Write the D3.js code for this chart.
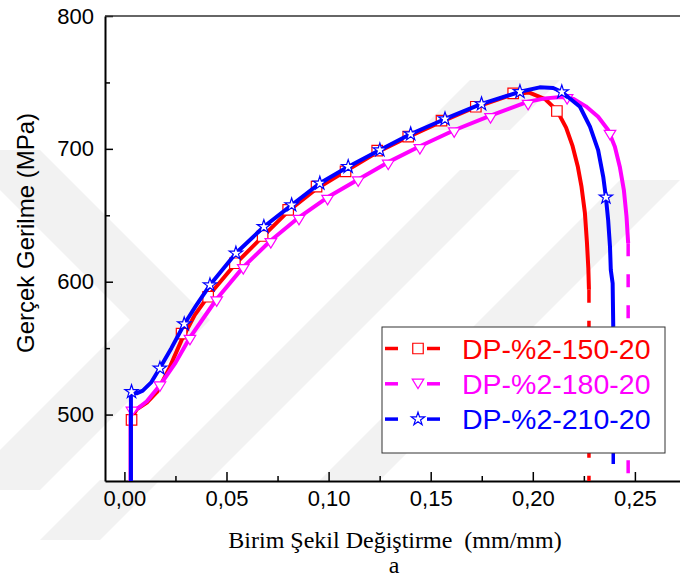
<!doctype html>
<html lang="tr">
<head>
  <meta charset="utf-8">
  <title>Gerçek Gerilme - Birim Şekil Değiştirme</title>
  <script src="https://cdn.jsdelivr.net/npm/d3@7"></script>
  <style>
    body { margin: 0; background: #fff; }
    svg { display: block; }
    text { white-space: pre; }
  </style>
</head>
<body>
  <svg id="chart"></svg>

  <script>
    'use strict';

    // ---- data ----
    var seriesNames = ["DP-%2-150-20", "DP-%2-180-20", "DP-%2-210-20"];
    var seriesColors = ["#ff0000", "#ff00ff", "#0000ff"];

    // red curve (solid part), then the dashed drop
    var red150 = [[0.0032,450],[0.0032,496],[0.0060,504],[0.0110,509],[0.0160,517],[0.0220,535],
      [0.0280,556],[0.0345,575],[0.0410,589],[0.0541,613],[0.0677,634],[0.0802,653],[0.0941,670],
      [0.1080,683],[0.1238,697.5],[0.1390,709],[0.1553,720.5],[0.1721,731.5],[0.1904,741],
      [0.1980,742.5],[0.2060,737.5],[0.2118,729],[0.2163,716],[0.2195,702],[0.2220,687],
      [0.2238,672],[0.2255,652],[0.2265,630],[0.2272,610],[0.2275,594]];
    var red150Drop = [[0.2275,594],[0.2275,450]];
    var red150Marks = [[0.0035,496],[0.0280,561],[0.0410,588.7],[0.0541,613.9],[0.0677,634.4],
      [0.0802,654],[0.0941,671.5],[0.1083,683],[0.1238,698.6],[0.1390,709.2],[0.1553,721.2],
      [0.1721,731.7],[0.1904,741.8],[0.2118,728.5]];

    var mag180 = [[0.0030,450],[0.0030,500],[0.0060,504],[0.0110,510],[0.0174,522],[0.0250,539],
      [0.0321,558],[0.0452,587],[0.0582,611],[0.0717,631],[0.0855,648.5],[0.0995,663.5],
      [0.1145,677],[0.1292,690],[0.1447,702],[0.1615,714],[0.1793,725],[0.1977,735.5],
      [0.2060,738],[0.2140,739],[0.2200,737.5],[0.2260,732],[0.2320,724.2],[0.2369,714.2],
      [0.2402,701.6],[0.2426,686.6],[0.2446,669],[0.2459,649],[0.2467,629]];
    var mag180Drop = [[0.2467,629],[0.2467,450]];
    var mag180Marks = [[0.0037,502],[0.0174,521],[0.0321,556.1],[0.0452,585],[0.0582,609.3],
      [0.0717,628.9],[0.0855,646.4],[0.0995,661.5],[0.1145,675.3],[0.1292,687.9],[0.1447,699.7],
      [0.1615,712.2],[0.1793,723],[0.1977,733],[0.2168,737.3],[0.2378,710.4]];

    var blue210 = [[0.0032,450],[0.0032,517],[0.0060,516],[0.0090,518],[0.0130,524],[0.0174,535],
      [0.0230,550],[0.0293,568],[0.0355,583],[0.0419,597.5],[0.0546,621.4],[0.0683,641.4],
      [0.0819,657.7],[0.0957,674.1],[0.1096,686.6],[0.1251,699.1],[0.1402,711.2],[0.1570,722.5],
      [0.1749,733.8],[0.1937,743],[0.2034,746.3],[0.2100,745.8],[0.2141,743],[0.2231,731.7],
      [0.2280,716.7],[0.2320,699.1],[0.2345,679],[0.2358,663.5],[0.2369,646.5],[0.2378,626.4],
      [0.2382,608.8],[0.2391,598.8],[0.2394,566]];
    var blue210Drop = [[0.2394,566],[0.2394,450]];
    var blue210Marks = [[0.0035,517.2],[0.0174,534.8],[0.0293,568.2],[0.0419,597.5],[0.0546,621.4],
      [0.0683,641.4],[0.0819,657.7],[0.0957,674.1],[0.1096,686.6],[0.1251,699.1],[0.1402,711.2],
      [0.1570,722.5],[0.1749,733.8],[0.1937,743],[0.2142,742.8],[0.2358,663.6]];

    var xTicks = [0, 0.05, 0.10, 0.15, 0.20, 0.25];
    var xMinor = [0.025, 0.075, 0.125, 0.175, 0.225];
    var yTicks = [500, 600, 700, 800];
    var yMinor = [550, 650, 750];

    var xTitle = "Birim Şekil Değiştirme  (mm/mm)";
    var yTitle = "Gerçek Gerilme (MPa)";
    var caption = "a";

    // ---- layout ----
    var WIDTH = 680, HEIGHT = 586;
    var LEFT = 105, TOP = 16, BOTTOM = 481;

    var svg = d3.select("#chart").attr("width", WIDTH).attr("height", HEIGHT);

    var x = d3.scaleLinear().domain([-0.0095, 0.28]).range([LEFT, LEFT + 0.2895 * 2042]);
    var y = d3.scaleLinear().domain([450, 800]).range([BOTTOM, TOP]);

    // faint background watermark bands
    var wm = svg.append("g").attr("fill", "#f2f2f2");
    var bands = [
      [[0,150],[40,150],[210,320],[40,490],[0,490],[0,450],[130,320],[0,190]],
      [[150,480],[460,170],[520,170],[210,480]],
      [[320,480],[620,180],[680,180],[380,480]],
      [[420,130],[470,80],[560,80],[510,130]],
      [[40,540],[100,480],[160,480],[100,540]]
    ];
    wm.selectAll("polygon").data(bands).enter().append("polygon")
      .attr("points", function(d){ return d.map(function(p){ return p.join(","); }).join(" "); });

    // axes
    var fmt = function(d){ return d3.format(".2f")(d).replace(".", ","); };

    svg.append("g").attr("transform", "translate(0," + BOTTOM + ")")
      .call(d3.axisBottom(x).tickValues(xTicks).tickSize(-9).tickSizeOuter(0).tickPadding(9).tickFormat(fmt));
    svg.append("g").attr("transform", "translate(0," + BOTTOM + ")")
      .call(d3.axisBottom(x).tickValues(xMinor).tickSize(-5).tickSizeOuter(0).tickFormat(""))
      .select(".domain").remove();

    svg.append("g").attr("transform", "translate(" + LEFT + ",0)")
      .call(d3.axisLeft(y).tickValues(yTicks).tickSize(-8).tickSizeOuter(0).tickPadding(11));
    svg.append("g").attr("transform", "translate(" + LEFT + ",0)")
      .call(d3.axisLeft(y).tickValues(yMinor).tickSize(-5).tickSizeOuter(0).tickFormat(""))
      .select(".domain").remove();

    svg.selectAll(".tick line").attr("stroke", "#000").attr("stroke-width", 1.5);
    svg.selectAll(".domain").attr("stroke", "#000").attr("stroke-width", 2);
    svg.selectAll(".tick text").attr("font-family", "Arial, 'Liberation Sans', sans-serif")
      .attr("font-size", 22).attr("fill", "#000");

    // top frame line
    svg.append("line").attr("x1", LEFT).attr("x2", WIDTH).attr("y1", TOP).attr("y2", TOP)
      .attr("stroke", "#333").attr("stroke-width", 1.5);

    // curves
    var line = d3.line().x(function(d){ return x(d[0]); }).y(function(d){ return y(d[1]); });

    var plot = svg.append("g");

    function markerPath(kind, size) {
      if (kind === 0) return d3.symbol().type(d3.symbolSquare).size(size * size)();
      if (kind === 1) {
        var h = size * 0.9, w = size * 1.1;
        return "M" + (-w/2) + "," + (-h/2) + "L" + (w/2) + "," + (-h/2) + "L0," + (h/2) + "Z";
      }
      return d3.symbol().type(d3.symbolStar).size(size * size * 0.5)();
    }

    var allLines = [red150, mag180, blue210];
    var allDrops = [red150Drop, mag180Drop, blue210Drop];
    var allMarks = [red150Marks, mag180Marks, blue210Marks];

    allLines.forEach(function(pts, i) {
      plot.append("path").datum(pts).attr("d", line)
        .attr("fill", "none").attr("stroke", seriesColors[i]).attr("stroke-width", 4)
        .attr("stroke-linejoin", "round");
      plot.append("path").datum(allDrops[i]).attr("d", line)
        .attr("fill", "none").attr("stroke", seriesColors[i]).attr("stroke-width", 3.5)
        .attr("stroke-dasharray", "13,18");
      plot.selectAll(".m" + i).data(allMarks[i]).enter().append("path")
        .attr("class", "m" + i)
        .attr("transform", function(d){ return "translate(" + x(d[0]) + "," + y(d[1]) + ")"; })
        .attr("d", markerPath(i, 10.5))
        .attr("fill", "#fff").attr("stroke", seriesColors[i]).attr("stroke-width", 1.2);
    });

    // legend
    var lg = svg.append("g");
    lg.append("rect").attr("x", 382).attr("y", 327).attr("width", 283).attr("height", 126)
      .attr("fill", "#fff").attr("stroke", "#333").attr("stroke-width", 1);
    seriesNames.forEach(function(name, i) {
      var ry = 348.5 + i * 35.3;
      lg.append("line").attr("x1", 385).attr("x2", 398).attr("y1", ry).attr("y2", ry)
        .attr("stroke", seriesColors[i]).attr("stroke-width", 3.5);
      lg.append("line").attr("x1", 427).attr("x2", 440).attr("y1", ry).attr("y2", ry)
        .attr("stroke", seriesColors[i]).attr("stroke-width", 3.5);
      lg.append("path").attr("transform", "translate(418," + ry + ")")
        .attr("d", markerPath(i, 10.5))
        .attr("fill", "#fff").attr("stroke", seriesColors[i]).attr("stroke-width", 1.2);
      lg.append("text").attr("x", 462).attr("y", ry + 10)
        .attr("font-family", "Arial, 'Liberation Sans', sans-serif").attr("font-size", 28.5)
        .attr("fill", seriesColors[i]).text(name);
    });

    // titles
    svg.append("text").attr("transform", "translate(34,233) rotate(-90)")
      .attr("text-anchor", "middle")
      .attr("font-family", "Arial, 'Liberation Sans', sans-serif").attr("font-size", 24)
      .text(yTitle);

    svg.append("text").attr("x", 395).attr("y", 548).attr("text-anchor", "middle")
      .attr("font-family", "'Times New Roman', 'Liberation Serif', serif").attr("font-size", 24)
      .text(xTitle);

    svg.append("text").attr("x", 394).attr("y", 573).attr("text-anchor", "middle")
      .attr("font-family", "'Times New Roman', 'Liberation Serif', serif").attr("font-size", 24)
      .text(caption);
  </script>
</body>
</html>
